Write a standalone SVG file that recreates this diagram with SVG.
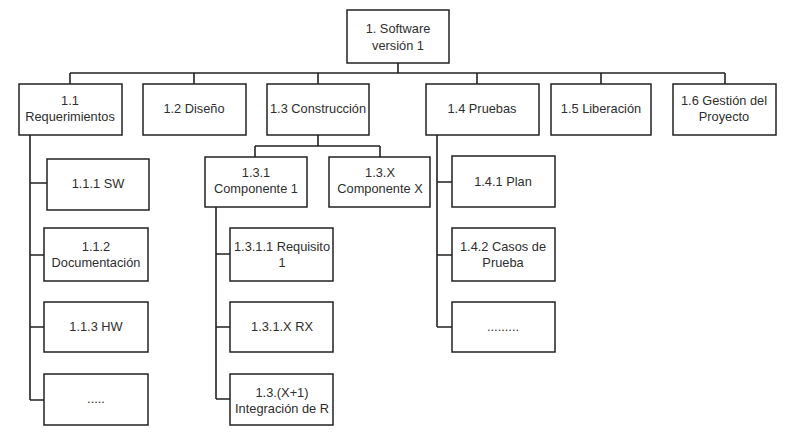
<svg xmlns="http://www.w3.org/2000/svg" width="806" height="447" viewBox="0 0 806 447">
<style>
.b{fill:#fff;stroke:#222;stroke-width:1.5}
.c{fill:none;stroke:#222;stroke-width:1.6}
text{font-family:"Liberation Sans",Arial,sans-serif;font-size:12.8px;fill:#2e2e2e;text-anchor:middle}
</style>
<rect width="806" height="447" fill="#fff"/>
<g id="connectors">
<path class="c" d="M398 63V73M70 73H725M70 73V84M194 73V84M318 73V84M477 73V84M601 73V84M725 73V84"/>
<path class="c" d="M30 135V400M30 183H47M30 255H44M30 327H44M30 400H44"/>
<path class="c" d="M318 135V146M255 146H380M255 146V157M380 146V157"/>
<path class="c" d="M216 207V399M216 254H230M216 327H230M216 399H230"/>
<path class="c" d="M437 135V327M437 182H452M437 255H452M437 327H452"/>
</g>
<g id="n1"><rect class="b" x="347" y="10" width="102" height="53"/><text x="398" y="33">1. Software</text><text x="398" y="50">versión 1</text></g>
<g id="n11"><rect class="b" x="19" y="84" width="103" height="51"/><text x="70" y="105">1.1</text><text x="70" y="121">Requerimientos</text></g>
<g id="n12"><rect class="b" x="143" y="84" width="103" height="51"/><text x="194" y="113">1.2 Diseño</text></g>
<g id="n13"><rect class="b" x="267" y="84" width="102" height="51"/><text x="318" y="113">1.3 Construcción</text></g>
<g id="n14"><rect class="b" x="426" y="84" width="113" height="51"/><text x="482" y="113">1.4 Pruebas</text></g>
<g id="n15"><rect class="b" x="551" y="84" width="100" height="51"/><text x="601" y="113">1.5 Liberación</text></g>
<g id="n16"><rect class="b" x="673" y="84" width="103" height="51"/><text x="724" y="105">1.6 Gestión del</text><text x="724" y="121">Proyecto</text></g>
<g id="n111"><rect class="b" x="47" y="159" width="102" height="51"/><text x="98" y="188">1.1.1 SW</text></g>
<g id="n112"><rect class="b" x="44" y="228" width="104" height="53"/><text x="96" y="251">1.1.2</text><text x="96" y="267">Documentación</text></g>
<g id="n113"><rect class="b" x="44" y="302" width="104" height="50"/><text x="96" y="331">1.1.3 HW</text></g>
<g id="n114"><rect class="b" x="44" y="374" width="104" height="51"/><text x="96" y="403">.....</text></g>
<g id="n131"><rect class="b" x="205" y="157" width="102" height="50"/><text x="256" y="177">1.3.1</text><text x="256" y="193">Componente 1</text></g>
<g id="n13x"><rect class="b" x="329" y="157" width="101" height="50"/><text x="380" y="177">1.3.X</text><text x="380" y="193">Componente X</text></g>
<g id="n1311"><rect class="b" x="230" y="228" width="103" height="53"/><text x="282" y="251">1.3.1.1 Requisito</text><text x="282" y="267">1</text></g>
<g id="n131x"><rect class="b" x="230" y="302" width="103" height="50"/><text x="282" y="331">1.3.1.X RX</text></g>
<g id="n13x1"><rect class="b" x="230" y="374" width="103" height="51"/><text x="282" y="397">1.3.(X+1)</text><text x="282" y="413">Integración de R</text></g>
<g id="n141"><rect class="b" x="452" y="156" width="103" height="51"/><text x="503" y="186">1.4.1 Plan</text></g>
<g id="n142"><rect class="b" x="452" y="228" width="103" height="53"/><text x="503" y="251">1.4.2 Casos de</text><text x="503" y="267">Prueba</text></g>
<g id="n143"><rect class="b" x="452" y="302" width="103" height="50"/><text x="503" y="331">.........</text></g>
</svg>
